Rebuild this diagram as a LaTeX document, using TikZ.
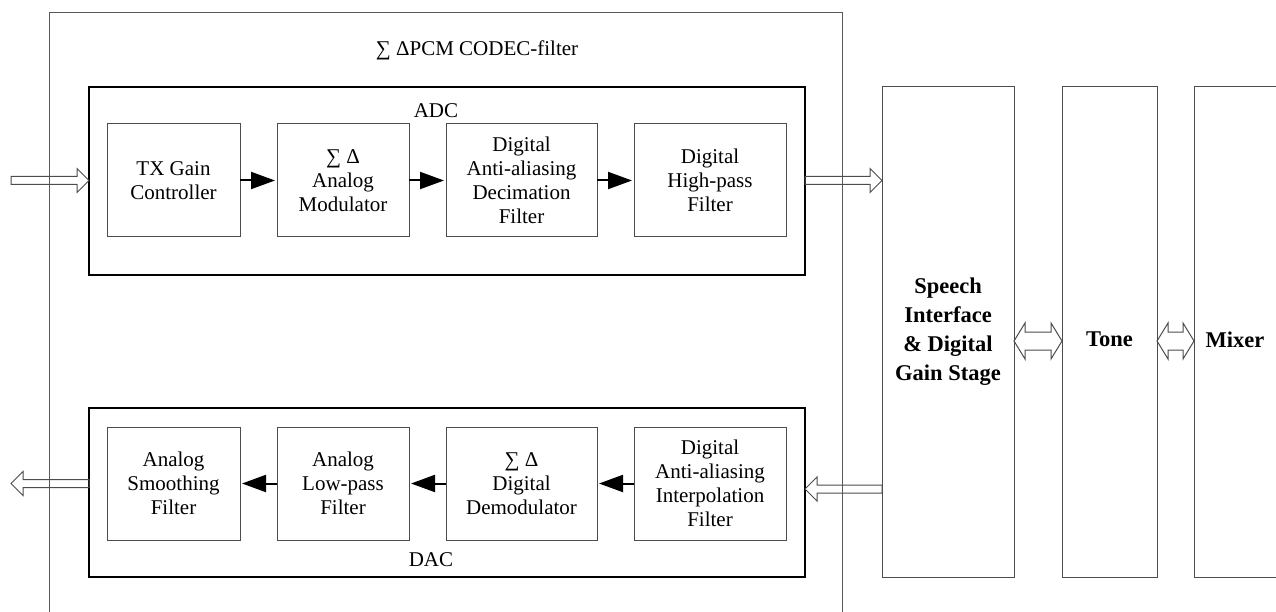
\documentclass[tikz,border=0pt]{standalone}
\usepackage{fontspec}
\setmainfont{Liberation Serif}
\usetikzlibrary{positioning,calc,fit,arrows.meta}

\tikzset{
  blk/.style={draw=black!70, line width=1pt, minimum width=#1, minimum height=113pt,
    inner sep=0pt, outer sep=0pt, align=center},
  stage/.style={draw=black!70, line width=1pt, minimum width=#1, minimum height=490pt,
    inner sep=0pt, outer sep=0pt, align=center, font=\fontsize{22.5}{29}\selectfont\bfseries},
  stagetxt/.style={font=\fontsize{22.5}{29}\selectfont\bfseries},
  group/.style={draw=black, line width=2pt, inner sep=0pt, outer sep=0pt},
  flow/.style={line width=2pt, -{Triangle[length=24pt,width=17pt]}, shorten >=2pt},
  hollow/.style={draw=black!70, line width=1pt, to path={
    let \p1=(\tikztostart), \p2=(\tikztotarget),
        \p3=($(\tikztotarget)!12pt!(\tikztostart)$) in
    (\x1,\y1-4pt) -- (\x3,\y1-4pt) -- (\x3,\y1-12pt) -- (\x2,\y1)
    -- (\x3,\y1+12pt) -- (\x3,\y1+4pt) -- (\x1,\y1+4pt) -- cycle}},
  twoway/.style={draw=black!70, line width=1pt, to path={
    let \p1=(\tikztostart), \p2=(\tikztotarget),
        \p3=($(\tikztostart)!11pt!(\tikztotarget)$),
        \p4=($(\tikztotarget)!11pt!(\tikztostart)$) in
    (\x1,\y1) -- (\x3,\y1-18pt) -- (\x3,\y1-9pt) -- (\x4,\y1-9pt) -- (\x4,\y1-18pt)
    -- (\x2,\y1) -- (\x4,\y1+18pt) -- (\x4,\y1+9pt) -- (\x3,\y1+9pt) -- (\x3,\y1+18pt)
    -- cycle}},
}

\begin{document}
\begin{tikzpicture}[x=1pt, y=-1pt, font=\fontsize{21}{24}\selectfont, node distance=37pt]
  \useasboundingbox (0,0) rectangle (1276,612);
  % CODEC frame, open at the bottom
  \draw[black!65, line width=1pt] (49.5,640) |- (842.5,12.5) -- (842.5,640);
  \node (title) at (477,50) {∑ ΔPCM CODEC-filter};

  % ADC chain
  \node[blk=133pt] (tx) at (173.5,180.5) {TX Gain\\Controller};
  \node[blk=132pt, right=of tx] (mod) {∑ Δ\\Analog\\Modulator};
  \node[blk=151pt, right=of mod] (dec) {Digital\\Anti-aliasing\\Decimation\\Filter};
  \node[blk=152pt, right=of dec] (hp) {Digital\\High-pass\\Filter};
  \node[group, fit={($(tx.north west)+(-18,-37)$) ($(hp.south east)+(19,38)$)}] (adc) {};
  \node (adclbl) at (436,111) {ADC};

  % DAC chain
  \node[blk=133pt] (sm) at (173.5,483.5) {Analog\\Smoothing\\Filter};
  \node[blk=132pt, right=of sm] (lp) {Analog\\Low-pass\\Filter};
  \node[blk=151pt, right=of lp] (dm) {∑ Δ\\Digital\\Demodulator};
  \node[blk=152pt, right=of dm] (ip) {Digital\\Anti-aliasing\\Interpolation\\Filter};
  \node[group, fit={($(sm.north west)+(-18,-19)$) ($(ip.south east)+(19,37)$)}] (dac) {};
  \node (daclbl) at (431,560) {DAC};

  % right-hand stages
  \node[stage=132pt] (speech) at (948,332) {Speech\\Interface\\\& Digital\\Gain Stage};
  \node[stage=95pt, right=48pt of speech] (tone) {};
  \node[stage=88pt, right=of tone] (mixer) {};
  \node[stagetxt] (tonelbl) at ($(tone.center)+(0,7)$) {Tone};
  \node[stagetxt] (mixerlbl) at ($(mixer.center)+(-3,8)$) {Mixer};

  \coordinate (in) at (11,180.5);
  \coordinate (out) at (11,483.5);
  \coordinate (back) at ($(speech.west |- ip.east)+(0,5.5)$);

  \foreach \a/\b in {tx/mod, mod/dec, dec/hp, ip/dm, dm/lp, lp/sm}
    \draw[flow] (\a) -- (\b);
  \draw[hollow] (in) to (adc.west |- in);
  \draw[hollow] (adc.east |- hp.east) to (speech.west |- hp.east);
  \draw[hollow] (back) to (dac.east |- back);
  \draw[hollow] (dac.west |- sm.west) to (out);
  \draw[twoway] ($(speech.east)+(0,9)$) to ($(tone.west)+(0,9)$);
  \draw[twoway] ($(tone.east)+(0,9)$) to ($(mixer.west)+(0,9)$);
\end{tikzpicture}
\end{document}
